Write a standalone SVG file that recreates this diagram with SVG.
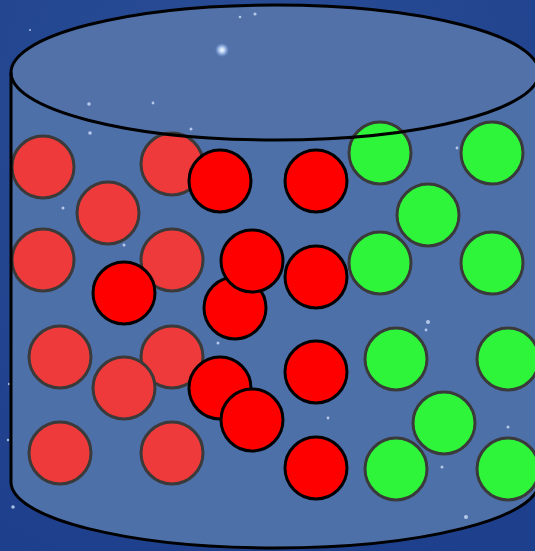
<svg xmlns="http://www.w3.org/2000/svg" width="535" height="551" viewBox="0 0 535 551">
<defs>
<radialGradient id="bg" cx="0.45" cy="0.2" r="0.9">
<stop offset="0" stop-color="#2a4e96"/>
<stop offset="1" stop-color="#1e3f8c"/>
</radialGradient>
<radialGradient id="glow">
<stop offset="0" stop-color="#ffffff"/>
<stop offset="0.4" stop-color="#cfe6ff" stop-opacity="0.8"/>
<stop offset="1" stop-color="#8fb8ff" stop-opacity="0"/>
</radialGradient>
</defs>
<style>
.star{fill:#d8e6ff;opacity:0.75}
.lred{fill:#ee3a3a;stroke:#3a3a3a;stroke-width:3}
.red{fill:#ff0000;stroke:#000;stroke-width:3}
.green{fill:#2ef53a;stroke:#3a3a3a;stroke-width:3}
.outline{fill:none;stroke:#000;stroke-width:3}
</style>
<rect width="535" height="551" fill="url(#bg)"/>
<g id="stars-outside">
<circle class="star" cx="13" cy="507" r="1.8"/>
<circle class="star" cx="8" cy="440" r="1.2"/>
<circle class="star" cx="9" cy="384" r="1.2"/>
<circle class="star" cx="30" cy="30" r="1"/>
</g>
<g id="cylinder">
<path d="M11,72.5 L11,482 A264,66 0 0 0 539,482 L539,72.5 A264,67.5 0 0 0 11,72.5 Z" fill="#4e70a9"/>
<ellipse cx="275" cy="72.5" rx="264" ry="67.5" fill="#5171a8"/>
</g>
<g id="stars-inside">
<circle cx="222" cy="50" r="7" fill="url(#glow)"/>
<circle class="star" cx="255" cy="14" r="1.6"/>
<circle class="star" cx="240" cy="17" r="1.3"/>
<circle class="star" cx="89" cy="104" r="1.8"/>
<circle class="star" cx="153" cy="103" r="1.4"/>
<circle class="star" cx="90" cy="133" r="1.8"/>
<circle class="star" cx="191" cy="129" r="1.5"/>
<circle class="star" cx="63" cy="208" r="1.5"/>
<circle class="star" cx="124" cy="245" r="1.5"/>
<circle class="star" cx="457" cy="148" r="1.4"/>
<circle class="star" cx="428" cy="322" r="2"/>
<circle class="star" cx="426" cy="330" r="1.4"/>
<circle class="star" cx="442" cy="467" r="1.5"/>
<circle class="star" cx="466" cy="517" r="2"/>
<circle class="star" cx="508" cy="427" r="1.5"/>
<circle class="star" cx="218" cy="343" r="1.5"/>
<circle class="star" cx="328" cy="418" r="1.4"/>
</g>
<g id="light-red-balls">
<circle id="lr1" class="lred" cx="43" cy="167" r="31"/>
<circle id="lr2" class="lred" cx="108" cy="213" r="31"/>
<circle id="lr3" class="lred" cx="172" cy="164" r="31"/>
<circle id="lr4" class="lred" cx="43" cy="260" r="31"/>
<circle id="lr5" class="lred" cx="172" cy="260" r="31"/>
<circle id="lr6" class="lred" cx="60" cy="357" r="31"/>
<circle id="lr7" class="lred" cx="172" cy="357" r="31"/>
<circle id="lr8" class="lred" cx="124" cy="388" r="31"/>
<circle id="lr9" class="lred" cx="60" cy="453" r="31"/>
<circle id="lr10" class="lred" cx="172" cy="453" r="31"/>
</g>
<g id="red-balls">
<circle id="r1" class="red" cx="220" cy="181" r="31"/>
<circle id="r2" class="red" cx="316" cy="181" r="31"/>
<circle id="r3" class="red" cx="124" cy="293" r="31"/>
<circle id="r4" class="red" cx="235" cy="308" r="31"/>
<circle id="r5" class="red" cx="252" cy="261" r="31"/>
<circle id="r6" class="red" cx="316" cy="277" r="31"/>
<circle id="r7" class="red" cx="220" cy="388" r="31"/>
<circle id="r8" class="red" cx="252" cy="420" r="31"/>
<circle id="r9" class="red" cx="316" cy="372" r="31"/>
<circle id="r10" class="red" cx="316" cy="468" r="31"/>
</g>
<g id="green-balls">
<circle id="g1" class="green" cx="380" cy="153" r="31"/>
<circle id="g2" class="green" cx="492" cy="153" r="31"/>
<circle id="g3" class="green" cx="428" cy="215" r="31"/>
<circle id="g4" class="green" cx="380" cy="263" r="31"/>
<circle id="g5" class="green" cx="492" cy="263" r="31"/>
<circle id="g6" class="green" cx="396" cy="359" r="31"/>
<circle id="g7" class="green" cx="508" cy="359" r="31"/>
<circle id="g8" class="green" cx="444" cy="423" r="31"/>
<circle id="g9" class="green" cx="396" cy="469" r="31"/>
<circle id="g10" class="green" cx="508" cy="469" r="31"/>
</g>
<g id="cylinder-outline">
<ellipse class="outline" cx="275" cy="72.5" rx="264" ry="67.5"/>
<path class="outline" d="M11,72.5 L11,482 A264,66 0 0 0 539,482 L539,72.5"/>
</g>
</svg>
